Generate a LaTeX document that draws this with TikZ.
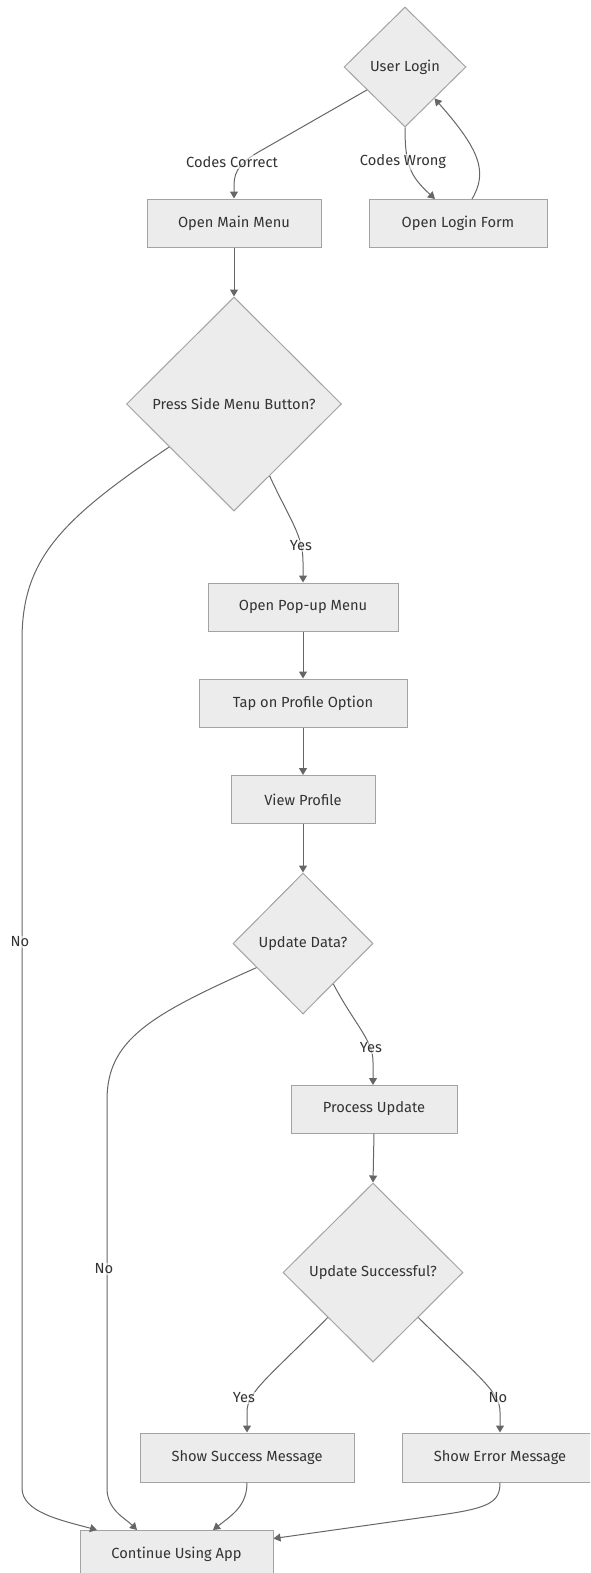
\documentclass[tikz,border=0pt]{standalone}
\usepackage{fontspec}
\setmainfont{Fira Sans}
\usetikzlibrary{shapes.geometric,arrows.meta,calc}
\definecolor{boxfill}{HTML}{ECECEC}
\definecolor{boxline}{HTML}{A3A3A3}
\definecolor{edgecol}{HTML}{666666}
\definecolor{txt}{HTML}{333333}
\tikzset{
  proc/.style={draw=boxline, fill=boxfill, line width=0.75pt, inner sep=0pt,
    text=txt, font=\fontsize{11pt}{13pt}\selectfont},
  decide/.style={diamond, draw=boxline, fill=boxfill, line width=0.75pt, inner sep=0pt,
    text=txt, font=\fontsize{11pt}{13pt}\selectfont},
  lbl/.style={fill=white, fill opacity=0.55, text opacity=1, text=txt, inner sep=1pt,
    font=\fontsize{11pt}{13pt}\selectfont},
  flow/.style={draw=edgecol, line width=0.75pt,
    -{Triangle[length=5.25pt,width=6pt]}},
}
\begin{document}
\begin{tikzpicture}[x=0.75pt, y=-0.75pt]
\useasboundingbox (0,0) rectangle (590,1573);
\clip (0,0) rectangle (590,1573);

% decisions (sizes in pixels * 0.75pt)
\node[decide, minimum width=91.5pt, minimum height=90pt] (ul) at (405,67) {User Login};
\node[decide, minimum width=161.25pt, minimum height=160.5pt] (psmb) at (234,404) {Press Side Menu Button?};
\node[decide, minimum width=105pt, minimum height=105.75pt] (ud) at (303,943.5) {Update Data?};
\node[decide, minimum width=135pt, minimum height=134.25pt] (us) at (373,1272.5) {Update Successful?};

% process steps
\node[proc, minimum width=130.5pt, minimum height=36pt] (omm) at (234,223) {Open Main Menu};
\node[proc, minimum width=133.5pt, minimum height=36pt] (olf) at (458,223) {Open Login Form};
\node[proc, minimum width=142.5pt, minimum height=36pt] (opm) at (303,607) {Open Pop-up Menu};
\node[proc, minimum width=156pt, minimum height=36pt] (tpo) at (303,703) {Tap on Profile Option};
\node[proc, minimum width=108pt, minimum height=36pt] (vp) at (303,799.5) {View Profile};
\node[proc, minimum width=124.5pt, minimum height=36pt] (pu) at (374,1109) {Process Update};
\node[proc, minimum width=160.5pt, minimum height=36.75pt] (ssm) at (247,1457.5) {Show Success Message};
\node[proc, minimum width=147pt, minimum height=36.75pt] (sem) at (500,1457.5) {Show Error Message};
\node[proc, minimum width=144.75pt, minimum height=36pt] (cua) at (176.5,1554) {Continue Using App};

% login branch
\draw[flow] ($(ul.west)!0.38!(ul.south)$) -- (262,150)
  .. controls (242,161) and (234,170) .. (234,185) -- (omm.north);
\draw[flow] (ul.south) .. controls (405,165) and (410,176) .. (435,199);
\draw[flow] (472,199) .. controls (488,172) and (480,150) .. ($(ul.south)!0.48!(ul.east)$);

% main path
\draw[flow] (omm.south) -- (psmb.north);
\draw[flow] ($(psmb.south)!0.33!(psmb.east)$) .. controls (290,520) and (303,535) .. (303,562) -- (opm.north);
\draw[flow] ($(psmb.west)!0.4!(psmb.south)$) .. controls (60,520) and (22,560) .. (22,640)
  -- (22,1488) .. controls (22,1512) and (60,1520) .. (97,1530);
\draw[flow] (opm.south) -- (tpo.north);
\draw[flow] (tpo.south) -- (vp.north);
\draw[flow] (vp.south) -- (ud.north);
\draw[flow] ($(ud.south)!0.43!(ud.east)$) .. controls (355,1025) and (373,1040) .. (373,1062) -- (373,1085);
\draw[flow] ($(ud.west)!0.34!(ud.south)$) .. controls (150,1015) and (107,1040) .. (107,1100)
  -- (107,1488) .. controls (107,1510) and (125,1518) .. (137,1530);
\draw[flow] (pu.south) -- (us.north);
\draw[flow] (us.south west) .. controls (268,1378) and (247,1392) .. (247,1412) -- (ssm.north);
\draw[flow] (us.south east) .. controls (480,1378) and (500,1392) .. (500,1412) -- (sem.north);
\draw[flow] (ssm.south) .. controls (247,1506) and (232,1515) .. (213,1530);
\draw[flow] (sem.south) .. controls (500,1502) and (490,1508) .. (440,1515) -- ($(cua.north east)+(0,9)$);

% edge labels
\node[lbl] (l1) at (232,162) {Codes Correct};
\node[lbl] (l2) at (403,162) {Codes Wrong};
\node[lbl] (l3) at (301,546) {Yes};
\node[lbl] (l4) at (20,942) {No};
\node[lbl] (l5) at (371,1048) {Yes};
\node[lbl] (l6) at (104,1269) {No};
\node[lbl] (l7) at (244,1398) {Yes};
\node[lbl] (l8) at (498,1398) {No};
\end{tikzpicture}
\end{document}
